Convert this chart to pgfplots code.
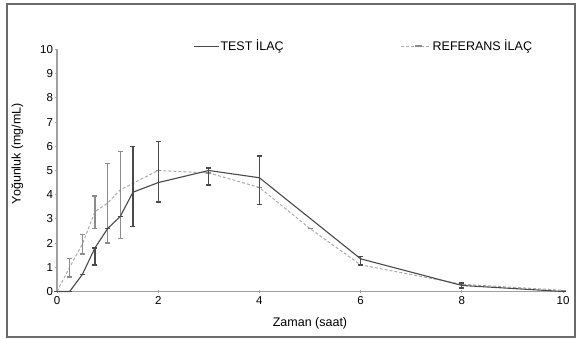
\documentclass[border=0pt]{standalone}
\usepackage{pgfplots}
\pgfplotsset{compat=1.18}
\usepackage{pgfplotstable}
\usepackage{fontspec}
\setmainfont{Liberation Sans}
\definecolor{testc}{HTML}{4A4A4A}
\definecolor{refc}{HTML}{8C8C8C}
\definecolor{reflc}{HTML}{ABABAB}
\definecolor{axc}{HTML}{A0A0A0}
\definecolor{framec}{HTML}{6A6A6A}
\pgfplotsset{
 testleg/.style={legend image code/.code={\draw[##1] (0pt,0pt) -- (25pt,0pt);}},
 refleg/.style={legend image code/.code={\draw[##1] (0pt,0pt) -- (30pt,0pt); \draw[##1, solid, line width=2pt, color=refc] (14pt,0pt) -- (21pt,0pt);}},
}
\pgfplotstableread{
t y ep em
0 0 0 0
0.25 0 0 0
0.5 0.7 0 0
0.75 1.8 0 0.7
1 2.6 0 0
1.25 3.1 0 0
1.5 4.1 1.9 1.4
2 4.5 1.7 0.8
3 5.0 0.1 0.6
4 4.7 0.9 1.1
6 1.35 0.1 0.25
8 0.25 0.1 0.1
10 0 0 0
}\testdata
\pgfplotstableread{
t y ep em
0 0 0 0
0.25 1.0 0.35 0.4
0.5 1.95 0.4 0.4
0.75 3.3 0.65 0.7
1 3.65 1.65 1.65
1.25 4.2 1.6 2.0
2 5.0 0 0
3 4.9 0 0
4 4.3 0 0
5 2.6 0 0
6 1.1 0 0
8 0.3 0 0
10 0.05 0 0
}\refdata
\begin{document}
\begin{tikzpicture}
\useasboundingbox (0,0) rectangle (581pt,339pt);
\draw[line width=1.2pt, color=framec] (7pt,2pt) rectangle (575pt,335pt);
\begin{axis}[
 at={(57pt,47.5pt)}, anchor=south west,
 scale only axis, width=506pt, height=242pt,
 xmin=0, xmax=10, ymin=0, ymax=10,
 axis x line=bottom, axis y line=left,
 axis line style={-, color=axc, line width=1.5pt},
 xtick={0,2,...,10}, ytick={0,1,...,10},
 tick style={color=axc, line width=0.8pt},
 major tick length=3pt,
 tick align=center,
 ticklabel style={font=\fontsize{11.5}{13}\selectfont, text=black},
 /pgf/number format/assume math mode=true,
 yticklabel style={xshift=1pt},
 xlabel={Zaman (saat)}, ylabel={Yoğunluk (mg/mL)},
 label style={font=\fontsize{12.5}{14}\selectfont},
 xlabel style={at={(axis description cs:0.5,-0.132)}, anchor=center},
 ylabel style={at={(axis description cs:-0.06,0.57)}, anchor=south},
 clip=false,
 legend columns=2,
 legend style={draw=none, fill=none, at={(axis description cs:0.269,1.014)}, anchor=west,
   inner sep=0pt, font=\fontsize{12.5}{14}\selectfont,
   nodes={inner xsep=1pt},
   /tikz/every even column/.append style={column sep=116pt}},
]
\addlegendimage{color=testc, line width=1.2pt, testleg}
\addlegendentry{TEST İLAÇ}
\addlegendimage{color=reflc, densely dashed, line width=1pt, refleg}
\addlegendentry{REFERANS İLAÇ}
\addplot[forget plot, color=reflc, densely dashed, line width=1pt,
  error bars/.cd, y dir=both, y explicit,
  error bar style={color=refc, solid, line width=1.2pt},
  error mark options={rotate=90, mark size=2.5pt, color=refc, line width=1.2pt}]
  table[x=t, y=y, y error plus=ep, y error minus=em] {\refdata};
\addplot[forget plot, color=testc, line width=1.1pt,
  error bars/.cd, y dir=both, y explicit,
  error bar style={color=testc, line width=1.3pt},
  error mark options={rotate=90, mark size=2.5pt, color=testc, line width=1.3pt}]
  table[x=t, y=y, y error plus=ep, y error minus=em] {\testdata};
\end{axis}
\end{tikzpicture}
\end{document}
